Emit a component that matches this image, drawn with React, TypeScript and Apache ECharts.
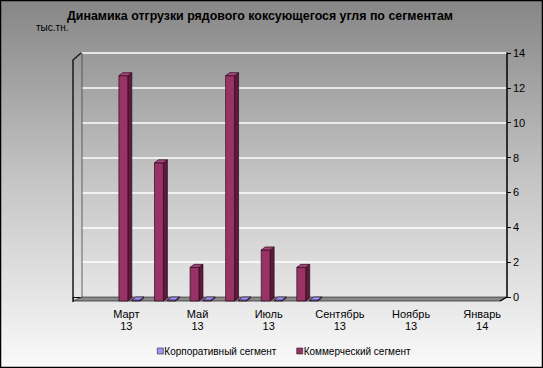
import React, { useEffect, useRef } from "react";
import * as echarts from "echarts";

const categories = [
  "Февраль\n13", "Март\n13", "Апрель\n13", "Май\n13", "Июнь\n13", "Июль\n13",
  "Август\n13", "Сентябрь\n13", "Октябрь\n13", "Ноябрь\n13", "Декабрь\n13", "Январь\n14",
];
const commercial: (number | null)[] = [null, 12.7, 7.7, 1.7, 12.7, 2.7, 1.7, null, null, null, null, null];
const corporate: (number | null)[] = [null, 0, 0, 0, 0, 0, 0, null, null, null, null, null];
const yTicks = { min: 0, max: 14, interval: 2 };
const seriesNames = ["Корпоративный сегмент", "Коммерческий сегмент"];

const FONT = "'Liberation Sans', Arial, sans-serif";

function toPairs(arr: (number | null)[]) {
  const out: number[][] = [];
  arr.forEach((v, i) => {
    if (v !== null) out.push([i, v]);
  });
  return out;
}

function make3D(offsetFrac: number, widthFrac: number, front: string, side: string, topC: string, flatZero: boolean) {
  return (params: any, api: any) => {
    const i = api.value(0);
    const v = api.value(1);
    const b = api.coord([i, 0]);
    const t = api.coord([i, v]);
    const bw = api.size([1, 0])[0];
    const L = b[0] + offsetFrac * bw;
    const W = widthFrac * bw;
    const d = 4;
    const r = 3;
    const yb = b[1] + 4;
    const yt = flatZero && v === 0 ? yb - 1 : t[1];
    const stroke = "#2a0a1a";
    return {
      type: "group",
      children: [
        {
          type: "polygon",
          shape: { points: [[L + W, yt], [L + W + d, yt - r], [L + W + d, yb - r], [L + W, yb]] },
          style: { fill: side, stroke, lineWidth: 0.7 },
        },
        {
          type: "rect",
          shape: { x: L, y: yt, width: W, height: Math.max(yb - yt, 1) },
          style: { fill: front, stroke, lineWidth: 0.7 },
        },
        {
          type: "polygon",
          shape: { points: [[L, yt], [L + d, yt - r], [L + W + d, yt - r], [L + W, yt]] },
          style: { fill: topC, stroke, lineWidth: 0.7 },
        },
      ],
    };
  };
}

export default function App() {
  const ref = useRef<HTMLDivElement>(null);
  useEffect(() => {
    document.body.style.margin = "0";
    if (!ref.current) return;
    const chart = echarts.init(ref.current, null, { renderer: "svg" });
    chart.setOption({
      animation: false,
      backgroundColor: {
        type: "linear", x: 0, y: 0, x2: 0, y2: 1,
        colorStops: [
          { offset: 0, color: "#868686" },
          { offset: 0.5, color: "#c6c6c6" },
          { offset: 1, color: "#fafafa" },
        ],
      },
      title: {
        text: "Динамика отгрузки рядового коксующегося угля по сегментам",
        left: 67,
        top: 10,
        padding: 0,
        textStyle: { fontFamily: FONT, fontSize: 12.4, fontWeight: "bold", color: "#000" },
      },
      legend: {
        data: seriesNames,
        left: 157,
        top: 346,
        icon: "rect",
        itemWidth: 6,
        itemHeight: 6,
        itemGap: 20,
        padding: 0,
        itemStyle: { borderColor: "#222", borderWidth: 0.6 },
        textStyle: { fontFamily: FONT, fontSize: 10, color: "#000", padding: [0, 0, 0, -4] },
      },
      grid: [
        { left: 73, right: 43, top: 53, bottom: 71, containLabel: false },
        { left: 82, right: 36, top: 53, bottom: 71, containLabel: false },
      ],
      xAxis: [
        {
          type: "category",
          gridIndex: 0,
          data: categories,
          boundaryGap: true,
          offset: 4,
          axisLine: { show: true, lineStyle: { color: "#000", width: 1 } },
          axisTick: { show: true, interval: 0, length: 4, lineStyle: { color: "#000" } },
          axisLabel: {
            interval: (i: number) => i % 2 === 1,
            fontFamily: FONT,
            fontSize: 11,
            lineHeight: 12,
            margin: 7,
            color: "#000",
          },
          splitLine: { show: false },
        },
        {
          type: "category",
          gridIndex: 1,
          data: categories,
          show: false,
        },
      ],
      yAxis: [
        {
          type: "value",
          gridIndex: 0,
          min: yTicks.min,
          max: yTicks.max,
          interval: yTicks.interval,
          show: false,
          splitLine: { show: false },
        },
        {
          type: "value",
          gridIndex: 1,
          position: "right",
          min: yTicks.min,
          max: yTicks.max,
          interval: yTicks.interval,
          axisLine: { show: true, lineStyle: { color: "#000", width: 1.5 } },
          axisTick: { show: true, length: 4, lineStyle: { color: "#000" } },
          axisLabel: { fontFamily: FONT, fontSize: 11, color: "#000", margin: 6 },
          splitLine: { show: true, lineStyle: { color: "#ffffff", width: 1.5 } },
        },
      ],
      graphic: [
        {
          type: "polygon",
          z: 1,
          shape: { points: [[73, 301], [500, 301], [507, 297], [82, 297]] },
          style: { fill: "#8a8a8a", stroke: "#333", lineWidth: 0.8 },
        },
        {
          type: "polyline",
          z: 2,
          shape: { points: [[73, 302], [73, 60], [81, 53]] },
          style: { stroke: "#1a1a1a", lineWidth: 1.5, fill: null },
        },
        {
          type: "line",
          z: 2,
          shape: { x1: 82, y1: 53, x2: 82, y2: 297 },
          style: { stroke: "#444", lineWidth: 0.8 },
        },
        {
          type: "line",
          z: 2,
          shape: { x1: 500, y1: 301, x2: 507, y2: 297 },
          style: { stroke: "#000", lineWidth: 1.2 },
        },
        {
          type: "text",
          z: 3,
          x: 36,
          y: 22,
          style: { text: "тыс.тн.", fontFamily: FONT, fontSize: 10, fill: "#000" },
        },
        {
          type: "rect",
          z: 10,
          shape: { x: 0.5, y: 0.5, width: 542, height: 367 },
          style: { fill: null, stroke: "#000", lineWidth: 1.5 },
        },
      ],
      series: [
        {
          name: seriesNames[1],
          type: "custom",
          xAxisIndex: 0,
          yAxisIndex: 0,
          z: 5,
          itemStyle: { color: "#993366" },
          encode: { x: 0, y: 1 },
          renderItem: make3D(-0.21, 0.25, "#993366", "#5e1a3c", "#a8457a", false),
          data: toPairs(commercial),
        },
        {
          name: seriesNames[0],
          type: "custom",
          xAxisIndex: 0,
          yAxisIndex: 0,
          z: 5,
          itemStyle: { color: "#9999ff" },
          encode: { x: 0, y: 1 },
          renderItem: make3D(0.155, 0.225, "#9999ff", "#5555aa", "#9999ff", true),
          data: toPairs(corporate),
        },
      ],
    });
    return () => chart.dispose();
  }, []);
  return <div ref={ref} style={{ position: "absolute", left: 0, top: 0, width: 543, height: 368 }} />;
}
